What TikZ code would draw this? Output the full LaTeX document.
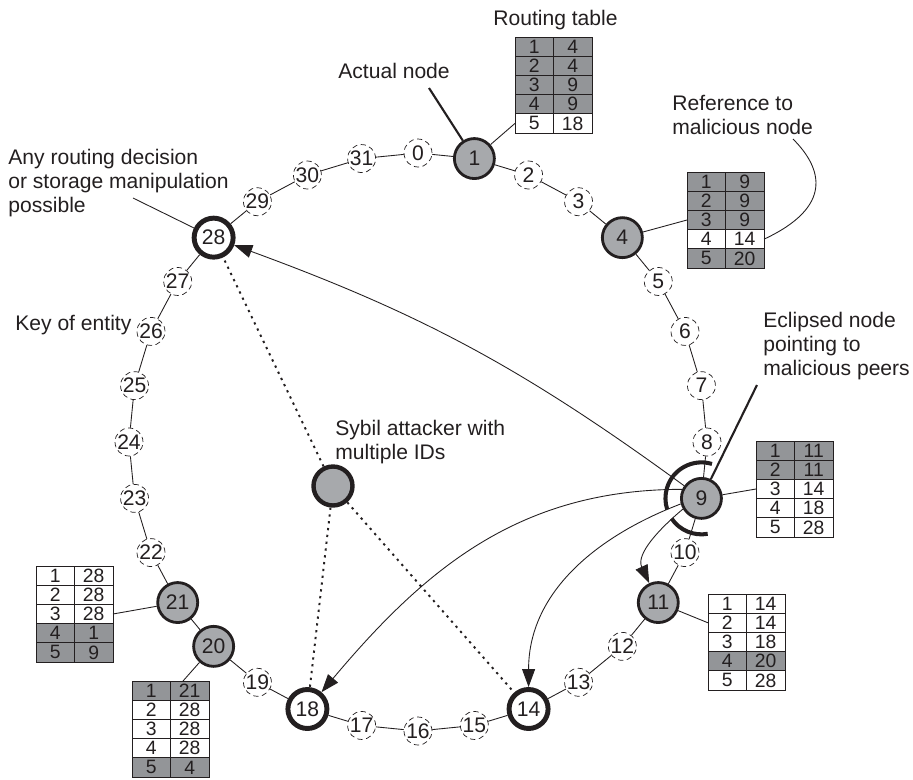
\documentclass[tikz,border=0pt]{standalone}
\usepackage{fontspec}
\setmainfont{Liberation Sans}
\usetikzlibrary{calc}
\usetikzlibrary{arrows.meta}

\definecolor{ink}{RGB}{35,31,32}
\definecolor{nodegray}{RGB}{167,169,172}
\definecolor{cellgray}{RGB}{147,149,152}

\tikzset{
  key/.style={circle, draw=ink, densely dashed, line width=0.4pt, fill=white, minimum size=0.56cm, inner sep=0pt, font=\fontsize{12}{12}\selectfont},
  peer/.style={circle, draw=ink, line width=1.6pt, fill=nodegray, minimum size=0.8cm, inner sep=0pt, font=\fontsize{12}{12}\selectfont},
  evil/.style={peer, line width=2.8pt, fill=white, minimum size=0.78cm},
  cell/.style={rectangle, draw=ink, line width=0.5pt, minimum width=0.77cm, minimum height=0.384cm, inner sep=0pt, outer sep=0pt, font=\fontsize{11}{11}\selectfont},
  lbl/.style={align=left, inner sep=0pt, anchor=north west, font=\fontsize{12}{13.6}\selectfont},
  ring/.style={line width=0.5pt},
  hop/.style={line width=0.5pt, -{Triangle[length=3.6mm,width=2.6mm]}},
  fake/.style={line width=1.1pt, dash pattern=on 1.3pt off 2.6pt},
  leader/.style={line width=1.2pt},
}

% routing table: name, top left corner, rows as index/target/colour
\newcommand{\routetab}[3]{%
  \foreach \r/\v/\cl in {#3} {
    \node[cell, fill=\cl, anchor=north west] (#1-\r-a) at ($(#2)+(0,{-19.2*(\r-1)})$) {\r};
    \node[cell, fill=\cl, anchor=west] (#1-\r-b) at (#1-\r-a.east) {\v};
  }%
}

\begin{document}
\begin{tikzpicture}[x=0.02cm, y=0.02cm, color=ink]
\useasboundingbox (-418,-337) rectangle (495,442);

% ring of keys
\foreach \k in {0,2,3,5,6,7,8,10,12,13,15,16,17,19,22,23,24,25,26,27,29,30,31}
  \node[key] (k\k) at ({90-11.25*\k}:289) {\k};
\foreach \k in {1,4,9,11,20,21}
  \node[peer] (k\k) at ({90-11.25*\k}:289) {\k};
\foreach \k in {14,18,28}
  \node[evil] (k\k) at ({90-11.25*\k}:289) {\k};
\foreach \k in {0,...,31} {
  \pgfmathtruncatemacro\nx{mod(\k+1,32)}
  \draw[ring] (k\k) -- (k\nx);
}

% sybil attacker
\node[peer, line width=2.5pt, minimum size=0.78cm] (syb) at (-85,-44) {};

% routing tables
\routetab{rt1}{97,405}{1/4/cellgray,2/4/cellgray,3/9/cellgray,4/9/cellgray,5/18/white}
\routetab{rt4}{269,270}{1/9/cellgray,2/9/cellgray,3/9/cellgray,4/14/white,5/20/cellgray}
\routetab{rt9}{338,1}{1/11/cellgray,2/11/cellgray,3/14/white,4/18/white,5/28/white}
\routetab{rt11}{290,-152}{1/14/white,2/14/white,3/18/white,4/20/cellgray,5/28/white}
\routetab{rt21}{-382,-124}{1/28/white,2/28/white,3/28/white,4/1/cellgray,5/9/cellgray}
\routetab{rt20}{-286,-239}{1/21/cellgray,2/28/white,3/28/white,4/28/white,5/4/cellgray}

\draw[ring] (k1) -- (rt1-5-a.west);
\draw[ring] (k4) -- (rt4-3-a.west);
\draw[ring] (k9) -- (rt9-3-a.west);
\draw[ring] (k11) -- (rt11-2-a.west);
\draw[ring] (k21) -- (rt21-3-b.east);
\draw[ring] (k20) -- (rt20-1-b.125);

% labels
\node[lbl] (lblrt) at (75,432) {Routing table};
\node[lbl] (lblact) at (-80,379) {Actual node};
\node[lbl] (lblref) at (254,347) {Reference to\\malicious node};
\node[lbl] (lblany) at (-410,293) {Any routing decision\\or storage manipulation\\possible};
\node[lbl] (lblkey) at (-403,127) {Key of entity};
\node[lbl] (lblecl) at (345,130) {Eclipsed node\\pointing to\\malicious peers};
\node[lbl] (lblsyb) at (-83,22) {Sybil attacker with\\multiple IDs};

\coordinate (actfoot) at (11,354);
\draw[leader] (actfoot) -- (k1);
\coordinate (anyfoot) at (-285,244);
\draw[ring] (anyfoot) -- (k28);
\coordinate (eclfoot) at (339,57);
\draw[leader] (eclfoot) -- (k9);
\coordinate (reffoot) at (375,303);
\draw[ring] (reffoot) .. controls (405,273) and (415,235) .. (rt4-4-b.east);

% eclipse around 9
\draw[leader, line width=2.3pt] ($(k9)+(73:36)$) arc[start angle=73, end angle=198, radius=0.72cm];
\draw[leader, line width=2.3pt] ($(k9)+(214:36)$) arc[start angle=214, end angle=280, radius=0.72cm];

% poisoned references
\draw[hop] (k9) to[bend right=8] (k28);
\draw[hop] (k9.155) to[out=180, in=50] (k18);
\draw[hop] (k9.195) to[out=201, in=90] (k14);
\draw[hop] (k9.210) to[out=220, in=115] (k11);

% sybil identities
\draw[fake] (syb) -- (k28);
\draw[fake] (syb) -- (k18);
\draw[fake] (syb) -- (k14);
\end{tikzpicture}
\end{document}
